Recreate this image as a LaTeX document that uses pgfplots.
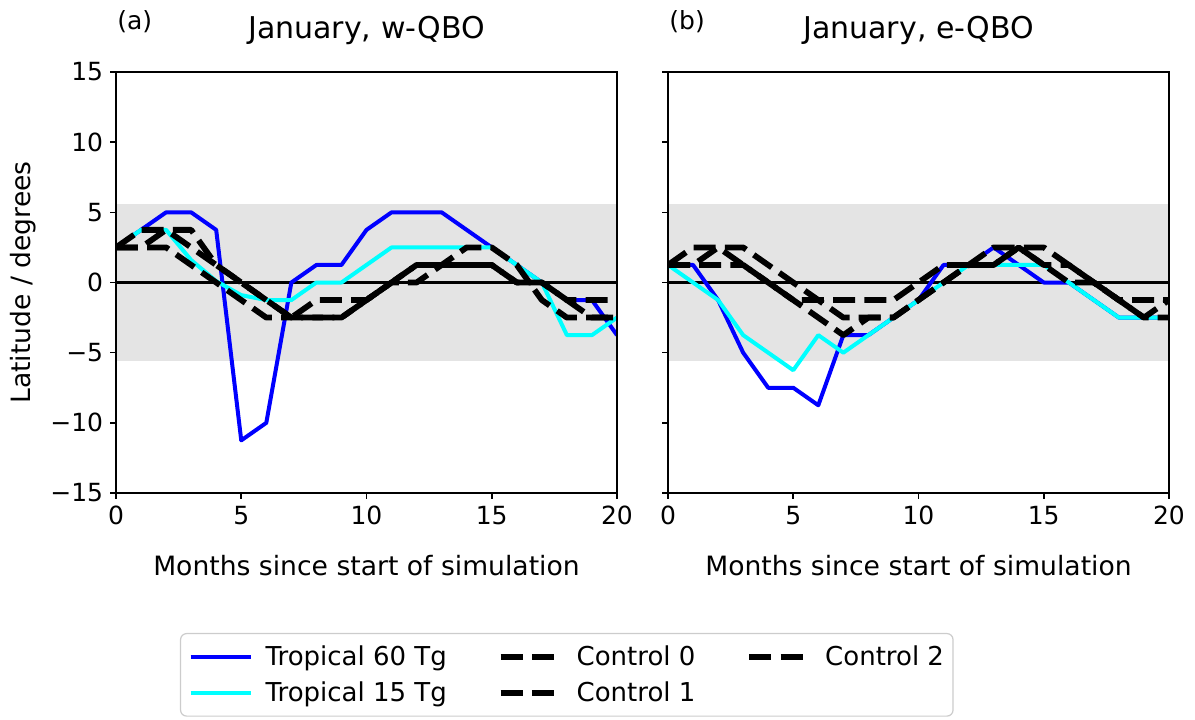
\documentclass[border=0pt]{standalone}
\usepackage{fontspec}
\setmainfont{DejaVu Sans}
\usepackage{pgfplots}
\usepackage{pgfplotstable}
\pgfplotsset{compat=1.18}

\definecolor{bandgray}{RGB}{228,228,228}
\definecolor{legframe}{RGB}{204,204,204}
\definecolor{t60col}{RGB}{0,0,255}
\definecolor{t15col}{RGB}{0,255,255}

% Latitude of the feature (degrees) per month, w-QBO January start
\pgfplotstableread{
m   t60     t15    c0     c1     c2
0   2.5     2.5    2.5    2.5    2.5
1   3.75    3.75   3.75   2.5    2.5
2   5       3.75   3.75   3.75   2.5
3   5       1.6    2.5    3.75   1.25
4   3.75    0.1    1.25   1.25   0
5   -11.25  -0.9   0      0      -1.25
6   -10     -1.25  -1.25  -1.25  -2.5
7   0       -1.25  -2.5   -2.5   -2.5
8   1.25    0      -2.5   -1.25  -2.5
9   1.25    0      -2.5   -1.25  -2.5
10  3.75    1.25   -1.25  -1.25  -1.25
11  5       2.5    0      0      0
12  5       2.5    1.25   0      1.25
13  5       2.5    1.25   1.25   1.25
14  3.75    2.5    1.25   2.5    1.25
15  2.5     2.5    1.25   2.5    1.25
16  1.25    1.25   0      1.25   0
17  0       0      0      -1.25  0
18  -1.25   -3.75  -1.25  -2.5   -1.25
19  -1.25   -3.75  -1.25  -2.5   -2.5
20  -3.75   -2.5   -1.25  -2.5   -2.5
}\westdata

% Same quantities, e-QBO January start
\pgfplotstableread{
m   t60     t15    c0     c1     c2
0   1.25    1.25   1.25   1.25   1.25
1   1.25    0      2.5    1.25   1.25
2   -1.25   -1.25  2.5    2.5    1.25
3   -5      -3.75  1.25   2.5    1.25
4   -7.5    -5     0      1.25   0
5   -7.5    -6.25  -1.25  0      -1.25
6   -8.75   -3.75  -1.25  -1.25  -2.5
7   -3.75   -5     -1.25  -2.5   -3.75
8   -3.75   -3.75  -1.25  -2.5   -2.5
9   -2.5    -2.5   -1.25  -2.5   -2.5
10  -1.25   -1.25  0      -1.25  -1.25
11  1.25    0      1.25   0      0
12  1.25    1.25   1.25   1.25   1.25
13  2.5     1.25   1.25   2.5    1.25
14  1.25    1.25   2.5    2.5    2.5
15  0       1.25   1.25   2.5    1.25
16  0       0      1.25   1.25   0
17  -1.25   -1.25  0      0      0
18  -2.5    -2.5   -1.25  -1.25  -1.25
19  -2.5    -2.5   -2.5   -1.25  -2.5
20  -2.5    -2.5   -1.25  -1.25  -2.5
}\eastdata

\newcommand{\tickfont}{\fontsize{12.5}{15}\selectfont}
\newcommand{\labelfont}{\fontsize{13.3}{16}\selectfont}

\pgfplotsset{
  panel/.style={
    scale only axis, width=250.5pt, height=210.5pt,
    xmin=0, xmax=20, ymin=-15, ymax=15,
    xtick={0,5,10,15,20},
    ytick={-15,-10,-5,0,5,10,15},
    tick align=outside, tick pos=left,
    major tick length=2.9pt,
    axis line style={line width=0.8pt},
    every tick/.style={black, line width=0.8pt},
    tick label style={font=\tickfont},
    /pgf/number format/assume math mode=true,
    axis on top,
    xlabel={Months since start of simulation},
    xlabel style={at={(axis description cs:0.5,-0.173)}, anchor=center, font=\labelfont},
    title style={at={(axis description cs:0.5,1.052)}, anchor=base, font=\fontsize{15}{18}\selectfont},
  },
  trop60/.style={t60col, line width=2pt, line join=round},
  trop15/.style={t15col, line width=2pt, line join=round},
  ctrl/.style={black, line width=2.9pt, dash pattern=on 11pt off 4.6pt, line join=round},
}

\begin{document}
\begin{tikzpicture}

\begin{axis}[panel,
  title={January, w-QBO},
  yticklabels={−15,−10,−5,0,5,10,15},
  ylabel={Latitude / degrees},
  ylabel style={at={(axis description cs:-0.1856,0.5)}, anchor=center, rotate=0, font=\labelfont},
  extra description/.code={\node[anchor=base west, font=\tickfont, inner sep=0pt] at (axis description cs:0.002,1.10) {(a)};},
  legend columns=3,
  legend cell align=left,
  legend image code/.code={\draw[#1] (0pt,0pt) -- (30pt,0pt);},
  legend style={at={(axis description cs:0.1277,-0.3325)}, anchor=north west,
    draw=legframe, line width=0.6pt, rounded corners=3pt,
    font=\fontsize{13}{15.6}\selectfont, inner xsep=4pt, inner ysep=5.5pt,
    nodes={inner sep=0.5pt}, row sep=5.5pt,
    /tikz/every odd column/.append style={column sep=6pt},
    /tikz/every even column/.append style={column sep=25pt}},
]
\addplot[draw=none, fill=bandgray, forget plot] coordinates {(0,-5.625) (20,-5.625) (20,5.625) (0,5.625)} -- cycle;
\addplot[black, line width=1.1pt, forget plot] coordinates {(0,0) (20,0)};
\addplot[trop60, forget plot] table[x=m, y=t60] {\westdata};
\addplot[trop15, forget plot] table[x=m, y=t15] {\westdata};
\addplot[ctrl, forget plot] table[x=m, y=c0] {\westdata};
\addplot[ctrl, forget plot] table[x=m, y=c1] {\westdata};
\addplot[ctrl, forget plot] table[x=m, y=c2] {\westdata};
% legend filled column by column
\addlegendimage{trop60}\addlegendentry{Tropical 60 Tg}
\addlegendimage{ctrl}\addlegendentry{Control 0}
\addlegendimage{ctrl}\addlegendentry{Control 2}
\addlegendimage{trop15}\addlegendentry{Tropical 15 Tg}
\addlegendimage{ctrl}\addlegendentry{Control 1}
\end{axis}

\begin{axis}[panel, at={(276pt,0pt)},
  title={January, e-QBO},
  yticklabels={},
  extra description/.code={\node[anchor=base west, font=\tickfont, inner sep=0pt] at (axis description cs:0.002,1.10) {(b)};},
]
\addplot[draw=none, fill=bandgray] coordinates {(0,-5.625) (20,-5.625) (20,5.625) (0,5.625)} -- cycle;
\addplot[black, line width=1.1pt] coordinates {(0,0) (20,0)};
\addplot[trop60] table[x=m, y=t60] {\eastdata};
\addplot[trop15] table[x=m, y=t15] {\eastdata};
\addplot[ctrl] table[x=m, y=c0] {\eastdata};
\addplot[ctrl] table[x=m, y=c1] {\eastdata};
\addplot[ctrl] table[x=m, y=c2] {\eastdata};
\end{axis}

\pgfresetboundingbox
\path[use as bounding box] (-58pt,-113pt) rectangle (539.5pt,246.5pt);
\end{tikzpicture}
\end{document}
